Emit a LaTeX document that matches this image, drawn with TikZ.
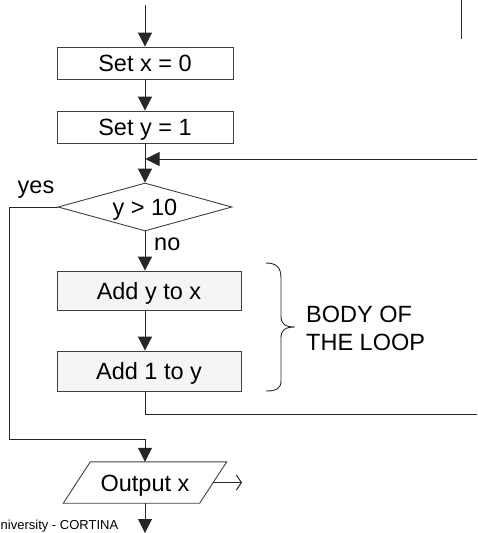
\documentclass[tikz,border=0pt]{standalone}
\usepackage{fontspec}
\setmainfont{Liberation Sans}
\usetikzlibrary{arrows.meta,shapes.geometric,calc}

\tikzset{
  line/.style={draw=black!85, line width=1pt},
  arr/.style={line, -{Triangle[length=14pt,width=14pt]}},
  openarr/.style={line, -{Straight Barb[length=5pt,width=15pt]}},
  txt/.style={font=\fontsize{23.5}{27}\selectfont, text height=17pt, text depth=0pt, inner sep=0pt},
  stepbox/.style={txt, draw=black!75, line width=0.9pt, rectangle},
  bodybox/.style={stepbox, fill=black!4},
  testbox/.style={txt, draw=black!75, line width=0.9pt, diamond, aspect=3.6},
}

\begin{document}
\begin{tikzpicture}[x=1pt, y=-1pt]
  \useasboundingbox (0,0) rectangle (477,533);
  \clip (0,0) rectangle (477,533);

  % process steps
  \node[stepbox, minimum width=176pt, minimum height=32pt] (setx) at (145,63) {Set x = 0};
  \node[stepbox, minimum width=176pt, minimum height=32pt] (sety) at (145,127) {Set y = 1};
  \node[testbox, minimum width=174pt, minimum height=48pt] (test) at (145,207) {y > 10};
  \node[bodybox, minimum width=184pt, minimum height=39pt] (addy) at (149,290.5) {Add y to x};
  \node[bodybox, minimum width=184pt, minimum height=40pt] (addone) at (149,371) {Add 1 to y};

  % output parallelogram: the node holds the text, the outline is slanted around it
  \node[txt, minimum width=136pt, minimum height=41pt] (out) at (145,482.5) {Output x};
  \draw[line, line width=0.9pt, draw=black!75]
    ($(out.north west)+(13.5,0)$) -- ($(out.north east)+(13.5,0)$)
    -- ($(out.south east)+(-13.5,0)$) -- ($(out.south west)+(-13.5,0)$) -- cycle;

  % labels
  \node[txt, anchor=base] (yes) at (36,193) {yes};
  \node[txt, anchor=base west] (no) at (154,250) {no};
  \node[txt, anchor=base west] (body1) at (306,322) {BODY OF};
  \node[txt, anchor=base west] (body2) at (306,350) {THE LOOP};
  \node[font=\fontsize{13}{15}\selectfont, inner sep=0pt, anchor=base west] (credit) at (0.5,529.5) {niversity - CORTINA};

  % free ends of the connectors
  \coordinate (start) at (145,5);
  \coordinate (loopin) at (477,159);
  \coordinate (yescorner) at (9,207);
  \coordinate (join) at (145,439);
  \coordinate (loopout) at (477,414);
  \coordinate (outend) at (242,482.5);
  \coordinate (finish) at (145,533);
  \coordinate (marktop) at (461,0);
  \coordinate (markbot) at (461,39);

  % main flow
  \draw[arr] (start) -- (setx.north);
  \draw[arr] (setx.south) -- (sety.north);
  \draw[arr] (sety.south) -- (test.north);
  \draw[arr] (loopin) -- ($(sety.south |- loopin)+(0.5,0)$);
  \draw[arr] (test.south) -- (test.south |- addy.north);
  \draw[arr] (test.south |- addy.south) -- (test.south |- addone.north);
  \draw[line] (test.south |- addone.south) -- (test.south |- loopout) -- (loopout);
  \draw[arr] (test.west) -- (yescorner) |- (join) -- (out.north);
  \draw[openarr] (out.east) -- (outend);
  \draw[arr] (out.south) -- (finish);
  \draw[line] (marktop) -- (markbot);

  % brace around the loop body
  \draw[line, line width=0.9pt]
    (266,263) .. controls (277,263) and (281,268) .. (281,278)
    -- (281,316) .. controls (281,324) and (285,327) .. (295,327)
    .. controls (285,327) and (281,330) .. (281,338)
    -- (281,381) .. controls (281,388) and (277,391) .. (266,391);
\end{tikzpicture}
\end{document}
